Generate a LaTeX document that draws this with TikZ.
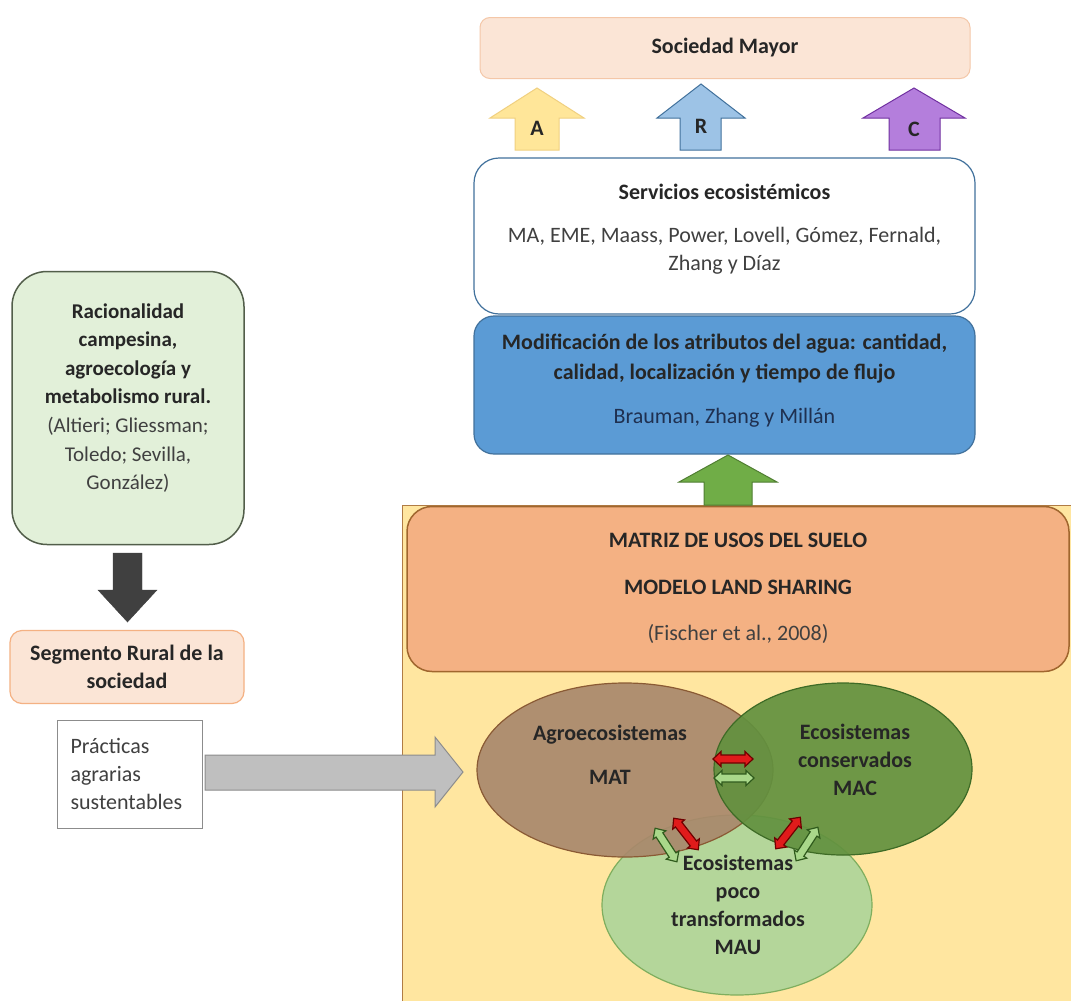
\documentclass[tikz,border=0pt]{standalone}
\usepackage{fontspec}
\setmainfont{Carlito}
\usetikzlibrary{shapes.geometric}
\definecolor{peachfill}{HTML}{FBE5D6}
\definecolor{peachline}{HTML}{F4C7A8}
\definecolor{segline}{HTML}{F4B183}
\definecolor{yelfill}{HTML}{FFE699}
\definecolor{yelline}{HTML}{F0D080}
\definecolor{bluefill}{HTML}{9DC3E6}
\definecolor{blueline}{HTML}{41719C}
\definecolor{purfill}{HTML}{B47EDC}
\definecolor{purline}{HTML}{7030A0}
\definecolor{midblue}{HTML}{5B9BD5}
\definecolor{greenarrow}{HTML}{70AD47}
\definecolor{greenarrowline}{HTML}{507E32}
\definecolor{bgyellow}{HTML}{FFE6A0}
\definecolor{bgline}{HTML}{B07C45}
\definecolor{orangebox}{HTML}{F4B183}
\definecolor{orangeline}{HTML}{A0662E}
\definecolor{lightgreen}{HTML}{E2F0D9}
\definecolor{ratline}{HTML}{525E4A}
\definecolor{matbrown}{HTML}{A9886C}
\definecolor{matline}{HTML}{8A5A34}
\definecolor{macgreen}{HTML}{62913F}
\definecolor{macline}{HTML}{3E6B26}
\definecolor{maulight}{HTML}{B4D69A}
\definecolor{mauline}{HTML}{7FAE5E}
\definecolor{darkarrow}{HTML}{404040}
\definecolor{grayfill}{HTML}{BFBFBF}
\definecolor{grayline}{HTML}{8C8C8C}
\definecolor{redarr}{HTML}{E01B1B}
\definecolor{redarrline}{HTML}{6E0000}
\definecolor{grnarr}{HTML}{A9D88A}
\definecolor{grnarrline}{HTML}{2F5A1C}
\definecolor{txtdark}{HTML}{262626}
\definecolor{txtgray}{HTML}{404040}
\definecolor{txtnavy}{HTML}{1F3050}
\begin{document}
\begin{tikzpicture}[x=1pt,y=-1pt,
  every node/.style={inner sep=0pt, outer sep=0pt},
  txt/.style={font=\fontsize{22}{28}\selectfont, text=txtdark, align=center},
  btxt/.style={txt, font=\fontsize{22}{28}\selectfont\bfseries},
  gtxt/.style={txt, text=txtgray},
  blockarrow/.style={line width=1pt, line join=miter},
  dblarrow/.pic={\draw[pic actions, line width=1.2pt, line join=miter]
     (-20,0) -- (-12,-7.5) -- (-12,-4) -- (12,-4) -- (12,-7.5) -- (20,0)
     -- (12,7.5) -- (12,4) -- (-12,4) -- (-12,7.5) -- cycle;}
]
\useasboundingbox (0,0) rectangle (1071,1001);
\fill[white] (0,0) rectangle (1071,1001);

% ---------- right column, top ----------
\node[btxt, rounded corners=10pt, fill=peachfill, draw=peachline, line width=1pt,
      minimum width=490pt, minimum height=61pt] (soc) at (725,48) {Sociedad Mayor};

\node[rounded corners=25pt, fill=white, draw=blueline, line width=1.2pt,
      minimum width=501pt, minimum height=156pt] (serv) at (724.5,236) {};
\node[btxt] (servt) at (724.5,192) {Servicios ecosistémicos};
\node[gtxt] (servr) at (724.5,251) {MA, EME, Maass, Power, Lovell, Gómez, Fernald,\\Zhang y Díaz};

\node[rounded corners=20pt, fill=midblue, draw=blueline, line width=1.2pt,
      minimum width=501pt, minimum height=138pt] (mod) at (724.5,385) {};
\node[btxt, font=\fontsize{22}{30}\selectfont\bfseries] (modt) at (724.5,359) {Modificación de los atributos del agua: cantidad,\\calidad, localización y tiempo de flujo};
\node[txt, text=txtnavy] (modr) at (724.5,418) {Brauman, Zhang y Millán};

% A R C arrows
\draw[blockarrow, fill=yelfill, draw=yelline] (537,88) -- (584,118) -- (559,118) -- (559,150)
   -- (515,150) -- (515,118) -- (490,118) -- cycle;
\node[btxt] (labA) at (537,128) {A};
\draw[blockarrow, fill=bluefill, draw=blueline] (701,84) -- (745,118) -- (721,118) -- (721,150)
   -- (680,150) -- (680,118) -- (657,118) -- cycle;
\node[btxt] (labR) at (701,126) {R};
\draw[blockarrow, fill=purfill, draw=purline] (914,88) -- (965,118) -- (940,118) -- (940,150)
   -- (889,150) -- (889,118) -- (863,118) -- cycle;
\node[btxt] (labC) at (914,129) {C};

% ---------- land use matrix ----------
\draw[fill=bgyellow, draw=bgline, line width=1pt] (402,505) rectangle (1080,1010);
\node[rounded corners=25pt, fill=orangebox, draw=orangeline, line width=1.5pt,
      minimum width=662pt, minimum height=165pt] (mat) at (738,589) {};
\node[btxt, font=\fontsize{22}{47}\selectfont\bfseries] (matt) at (738,564) {MATRIZ DE USOS DEL SUELO\\MODELO LAND SHARING};
\node[gtxt] (matr) at (738,634) {(Fischer et al., 2008)};

% green up arrow (matrix -> modificacion)
\draw[blockarrow, fill=greenarrow, draw=greenarrowline] (728,455) -- (777,482) -- (752,482) -- (752,505)
   -- (704,505) -- (704,482) -- (679,482) -- cycle;

% ellipses
\node[ellipse, fill=maulight, draw=mauline, line width=1.2pt,
      minimum width=270pt, minimum height=180pt] (mau) at (737,905) {};
\node[ellipse, fill=matbrown, fill opacity=0.92, draw=matline, line width=1.2pt,
      minimum width=296pt, minimum height=174pt] (matell) at (625,770) {};
\node[ellipse, fill=macgreen, fill opacity=0.92, draw=macline, line width=1.2pt,
      minimum width=258pt, minimum height=172pt] (macell) at (843,769) {};

\node[btxt] (matlab) at (610,755) {Agroecosistemas\\[16pt]MAT};
\node[btxt] (maclab) at (855,760) {Ecosistemas\\conservados\\MAC};
\node[btxt] (maulab) at (738,905) {Ecosistemas\\poco\\transformados\\MAU};

% exchange arrows
\pic[fill=redarr, draw=redarrline] (x1) at (733,759) {dblarrow};
\pic[fill=grnarr, draw=grnarrline] (x2) at (734,778) {dblarrow};
\pic[fill=redarr, draw=redarrline, rotate=-52] (x3) at (686,834) {dblarrow};
\pic[fill=grnarr, draw=grnarrline, rotate=-57] (x4) at (666,845) {dblarrow};
\pic[fill=redarr, draw=redarrline, rotate=52] (x5) at (788,833) {dblarrow};
\pic[fill=grnarr, draw=grnarrline, rotate=57] (x6) at (807,844) {dblarrow};

% ---------- left column ----------
\node[rounded corners=35pt, fill=lightgreen, draw=ratline, line width=1.5pt,
      minimum width=232pt, minimum height=273pt] (rac) at (128,408) {};
\node[txt, font=\fontsize{21}{28.6}\selectfont] (ract) at (128,398) {\textbf{Racionalidad}\\\textbf{campesina,}\\\textbf{agroecología y}\\\textbf{metabolismo rural.}\\
   \textcolor{txtgray}{(Altieri; Gliessman;}\\\textcolor{txtgray}{Toledo; Sevilla,}\\\textcolor{txtgray}{González)}};

\node[btxt, rounded corners=12pt, fill=peachfill, draw=segline, line width=1.2pt,
      minimum width=234pt, minimum height=73pt] (seg) at (127,667) {Segmento Rural de la\\sociedad};

% dark down arrow
\draw[fill=darkarrow, draw=darkarrow, line join=miter] (113,553) -- (142,553) -- (142,590) -- (157,590)
   -- (127.5,622) -- (98,590) -- (113,590) -- cycle;

\node[txt, align=left, text=txtgray, draw=grayline, line width=1pt, fill=white,
      minimum width=145pt, minimum height=108pt, text width=118pt] (prac) at (129.5,774)
      {Prácticas\\agrarias\\sustentables};

% gray arrow to ellipses
\draw[blockarrow, fill=grayfill, draw=grayline] (205,755) -- (435,755) -- (435,737) -- (463,772)
   -- (435,807) -- (435,790) -- (205,790) -- cycle;
\end{tikzpicture}
\end{document}
